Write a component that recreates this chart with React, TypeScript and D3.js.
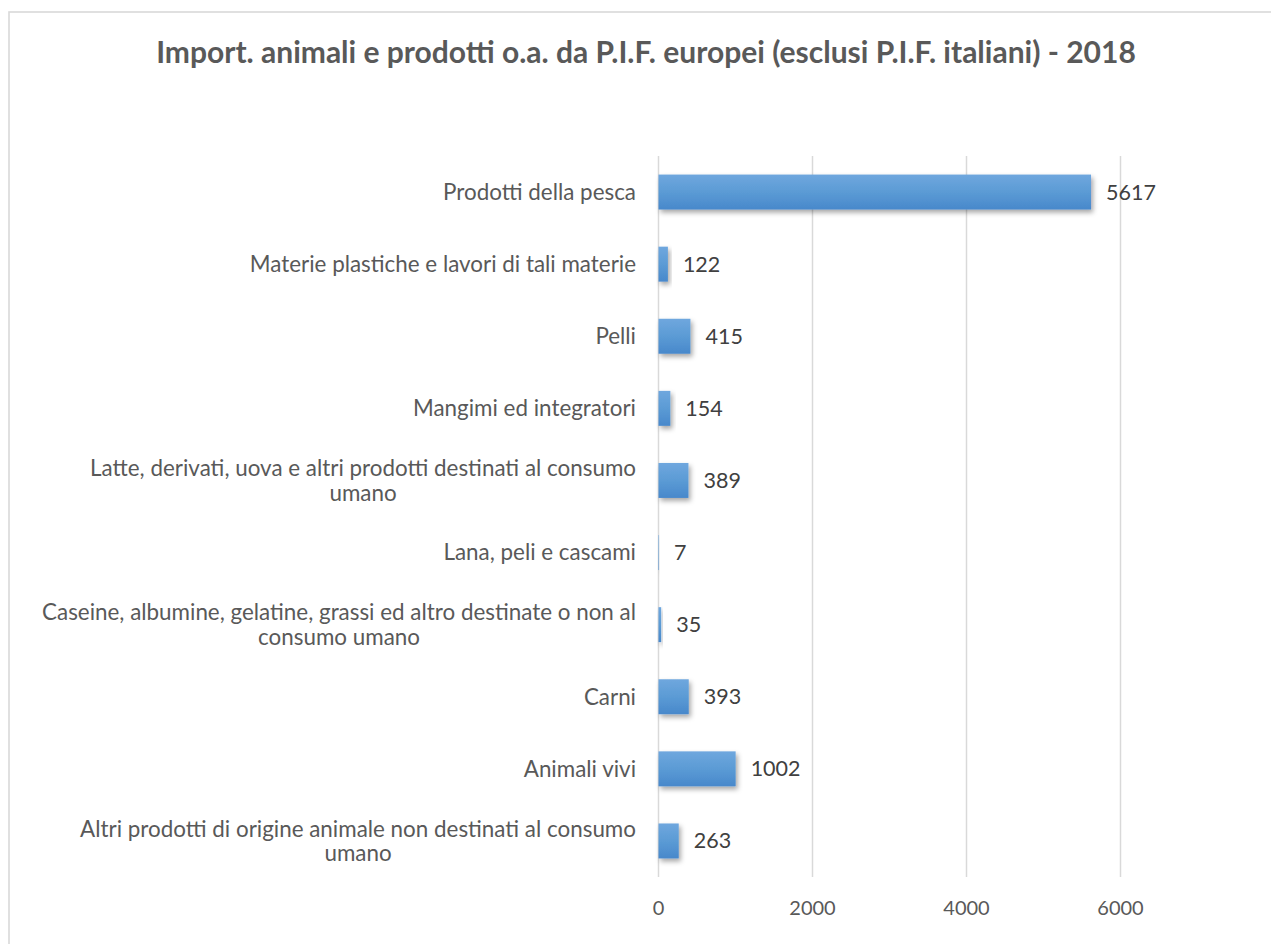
import React, { useEffect, useRef } from 'react';
import * as d3 from 'd3';

// categories from top to bottom, "\n" marks the line break seen in the chart
const categories = [
  'Prodotti della pesca',
  'Materie plastiche e lavori di tali materie',
  'Pelli',
  'Mangimi ed integratori',
  'Latte, derivati, uova e altri prodotti destinati al consumo\numano',
  'Lana, peli e cascami',
  'Caseine, albumine, gelatine, grassi ed altro destinate o non al\nconsumo umano',
  'Carni',
  'Animali vivi',
  'Altri prodotti di origine animale non destinati al consumo\numano',
];
const values = [5617, 122, 415, 154, 389, 7, 35, 393, 1002, 263];
const xTicks = [0, 2000, 4000, 6000];
const title = 'Import. animali e prodotti o.a. da P.I.F. europei (esclusi P.I.F. italiani) - 2018';

const App = () => {
  const ref = useRef<SVGSVGElement | null>(null);

  useEffect(() => {
    const width = 1271;
    const height = 944;
    const left = 658.5;
    const top = 156;
    const bottom = 877;
    const font = 'Lato, "Open Sans", sans-serif';

    const svg = d3.select(ref.current);
    svg.selectAll('*').remove();
    svg.attr('width', width).attr('height', height);

    const defs = svg.append('defs');
    const grad = defs.append('linearGradient')
      .attr('id', 'barGrad')
      .attr('x1', 0).attr('y1', 0).attr('x2', 0).attr('y2', 1);
    grad.append('stop').attr('offset', '0%').attr('stop-color', '#6fa7de');
    grad.append('stop').attr('offset', '50%').attr('stop-color', '#5b9bd5');
    grad.append('stop').attr('offset', '100%').attr('stop-color', '#4888cb');

    const shadow = defs.append('filter')
      .attr('id', 'shadow')
      .attr('x', '-20%').attr('y', '-30%').attr('width', '160%').attr('height', '180%');
    shadow.append('feDropShadow')
      .attr('dx', 2).attr('dy', 3).attr('stdDeviation', 2.5)
      .attr('flood-color', '#000').attr('flood-opacity', 0.35);

    // chart frame (cut off at the right and bottom)
    svg.append('rect')
      .attr('x', 9).attr('y', 12)
      .attr('width', 1400).attr('height', 1100)
      .attr('fill', 'white')
      .attr('stroke', '#d9d9d9')
      .attr('stroke-width', 1.6);

    svg.append('text')
      .attr('x', 646)
      .attr('y', 52)
      .attr('dy', '0.35em')
      .attr('text-anchor', 'middle')
      .style('font-family', font)
      .style('font-weight', 'bold')
      .style('font-size', '30px')
      .style('fill', '#595959')
      .text(title);

    const x = d3.scaleLinear().domain([0, 8000]).range([left, left + 616]);
    const y = d3.scaleBand<number>()
      .domain(d3.range(categories.length))
      .range([top, bottom])
      .paddingInner(0.515)
      .paddingOuter(0.2575);

    // gridlines
    svg.append('g')
      .selectAll('line')
      .data(xTicks)
      .enter()
      .append('line')
      .attr('x1', d => x(d)).attr('x2', d => x(d))
      .attr('y1', top).attr('y2', bottom)
      .attr('stroke', '#d9d9d9')
      .attr('stroke-width', 1.5);

    // tick labels
    svg.append('g')
      .selectAll('text')
      .data(xTicks)
      .enter()
      .append('text')
      .attr('x', d => x(d))
      .attr('y', 908)
      .attr('dy', '0.35em')
      .attr('text-anchor', 'middle')
      .style('font-family', font)
      .style('font-size', '20px')
      .style('fill', '#595959')
      .text(d => d);

    // bars
    svg.append('g')
      .selectAll('rect')
      .data(values)
      .enter()
      .append('rect')
      .attr('x', x(0))
      .attr('y', (d, i) => y(i) as number)
      .attr('width', d => x(d) - x(0))
      .attr('height', y.bandwidth())
      .attr('fill', 'url(#barGrad)')
      .attr('filter', 'url(#shadow)');

    // value labels
    svg.append('g')
      .selectAll('text')
      .data(values)
      .enter()
      .append('text')
      .attr('x', d => x(d) + 15)
      .attr('y', (d, i) => (y(i) as number) + y.bandwidth() / 2)
      .attr('dy', '0.35em')
      .style('font-family', font)
      .style('font-size', '21.5px')
      .style('fill', '#404040')
      .text(d => d);

    // category labels: block right-aligned, lines centred inside the block
    const labelRight = 636;
    const lineGap = 24.5;
    categories.forEach((cat, i) => {
      const lines = cat.split('\n');
      const cy = (y(i) as number) + y.bandwidth() / 2;
      const g = svg.append('g');
      const texts = lines.map((ln, j) =>
        g.append('text')
          .attr('y', cy + (j - (lines.length - 1) / 2) * lineGap)
          .attr('dy', '0.35em')
          .attr('text-anchor', 'middle')
          .style('font-family', font)
          .style('font-size', '22.4px')
          .style('fill', '#595959')
          .text(ln)
      );
      const w = d3.max(texts, t => (t.node() as SVGTextElement).getComputedTextLength()) || 0;
      texts.forEach(t => t.attr('x', labelRight - w / 2));
    });
  }, []);

  return (
    <svg ref={ref} style={{ position: 'absolute', left: 0, top: 0 }}></svg>
  );
};

export default App;
